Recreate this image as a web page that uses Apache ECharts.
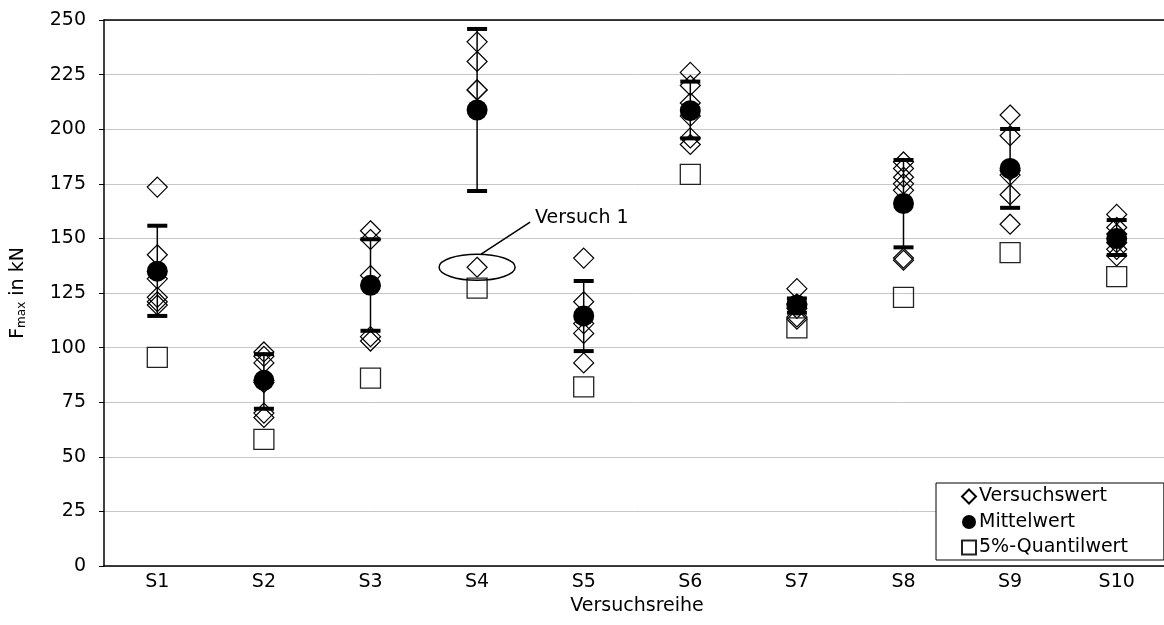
<!DOCTYPE html>
<html>
<head>
<meta charset="utf-8">
<script src="https://cdn.jsdelivr.net/npm/echarts@6/dist/echarts.min.js"></script>
<style>
  html, body { margin: 0; padding: 0; background: #fff; }
  #chart { width: 1164px; height: 625px; }
</style>
</head>
<body>
<div id="chart"></div>
<script>
// Versuchsreihen
const categories = ['S1', 'S2', 'S3', 'S4', 'S5', 'S6', 'S7', 'S8', 'S9', 'S10'];

// einzelne Versuchswerte je Reihe (kN)
const versuchswerte = [
  [173.5, 142.5, 131.5, 123, 121, 119.5],
  [98, 96, 93, 84, 70, 68],
  [153.5, 149.5, 133, 105, 103],
  [240, 231, 218, 218, 136.8],
  [141, 121, 111, 106.5, 93],
  [226, 220, 212, 206, 196, 193],
  [127, 120, 118, 114, 113],
  [185, 182, 178, 175, 172, 141, 140],
  [206.5, 197, 181, 179, 170, 156.5],
  [161, 155, 152, 148, 145, 142]
];

const mittelwert = [135, 85, 128.5, 208.8, 114.5, 208.5, 119.5, 166, 182, 150];
const errOben = [155.8, 97, 149.6, 245.9, 130.5, 221.8, 122.5, 185.9, 200.1, 158.4];
const errUnten = [114.5, 72, 107.7, 171.7, 98.4, 195.8, 116, 145.9, 164, 142.4];
const quantil = [95.5, 58, 86, 127.2, 82, 179.3, 109, 123, 143.5, 132.5];

const yTicks = { min: 0, max: 250, interval: 25 };

const font = '"DejaVu Sans", Verdana, sans-serif';
const fs = 19;

const chartDom = document.getElementById('chart');
const myChart = echarts.init(chartDom);

let diamondData = [];
versuchswerte.forEach((vals, i) => {
  vals.forEach(v => diamondData.push([i, v]));
});

function renderErr(params, api) {
  const x = api.value(0);
  const top = api.coord([x, api.value(2)]);
  const bot = api.coord([x, api.value(1)]);
  const hw = 10;
  return {
    type: 'group',
    children: [
      { type: 'line', shape: { x1: top[0], y1: top[1], x2: bot[0], y2: bot[1] },
        style: { stroke: '#000', lineWidth: 1.5 } },
      { type: 'line', shape: { x1: top[0] - hw, y1: top[1], x2: top[0] + hw, y2: top[1] },
        style: { stroke: '#000', lineWidth: 4 } },
      { type: 'line', shape: { x1: bot[0] - hw, y1: bot[1], x2: bot[0] + hw, y2: bot[1] },
        style: { stroke: '#000', lineWidth: 4 } }
    ]
  };
}

let option = {
  animation: false,
  backgroundColor: '#fff',
  textStyle: { fontFamily: font },
  grid: { left: 104, top: 20, bottom: 59, width: 1066, outerBoundsMode: 'none', containLabel: false },
  legend: {
    orient: 'vertical',
    left: 936, top: 483,
    padding: [4, 36, 3, 25],
    itemGap: 6.5,
    itemWidth: 14, itemHeight: 14,
    backgroundColor: '#fff',
    borderColor: '#000', borderWidth: 1,
    borderRadius: 0,
    textStyle: { fontFamily: font, fontSize: fs, color: '#000', padding: [0, 0, 0, -2] },
    data: ['Versuchswert', 'Mittelwert', '5%-Quantilwert']
  },
  xAxis: [{
    type: 'category',
    data: categories,
    name: 'Versuchsreihe',
    nameLocation: 'middle',
    nameGap: 29,
    nameTextStyle: { fontFamily: font, fontSize: fs, color: '#000' },
    axisLine: { lineStyle: { color: '#000', width: 1.5 } },
    axisTick: { show: false },
    axisLabel: { fontFamily: font, fontSize: fs, color: '#000', margin: 7 },
    splitLine: { show: false }
  }, {
    type: 'category',
    data: categories,
    position: 'top',
    axisLine: { lineStyle: { color: '#000', width: 1.5 } },
    axisTick: { show: false },
    axisLabel: { show: false }
  }],
  yAxis: {
    type: 'value',
    min: yTicks.min, max: yTicks.max, interval: yTicks.interval,
    name: '{f|F}{s|max}{f| in kN}',
    nameLocation: 'middle',
    nameRotate: 90,
    nameGap: 76,
    nameTextStyle: {
      rich: {
        f: { fontFamily: font, fontSize: fs, color: '#000' },
        s: { fontFamily: font, fontSize: 12, color: '#000', verticalAlign: 'bottom', padding: [8, 0, 0, 0] }
      }
    },
    axisLine: { show: true, lineStyle: { color: '#000', width: 1.5 } },
    axisTick: { show: true, length: 5, inside: false, lineStyle: { color: '#000' } },
    axisLabel: { fontFamily: font, fontSize: fs, color: '#000', margin: 18 },
    splitLine: { lineStyle: { color: '#c6c6c6', width: 1 } }
  },
  series: [
    {
      name: 'Fehler',
      type: 'custom',
      renderItem: renderErr,
      data: categories.map((c, i) => [i, errUnten[i], errOben[i]]),
      encode: { x: 0, y: [1, 2] },
      z: 2
    },
    {
      name: 'Versuchswert',
      type: 'scatter',
      symbol: 'diamond',
      symbolSize: [20, 20],
      itemStyle: { color: 'rgba(255,255,255,0)', borderColor: '#000', borderWidth: 1.2, opacity: 1 },
      data: diamondData,
      z: 3
    },
    {
      name: 'Mittelwert',
      type: 'scatter',
      symbol: 'circle',
      symbolSize: 21,
      itemStyle: { color: '#000', borderColor: '#000', borderWidth: 0, opacity: 1 },
      data: mittelwert.map((v, i) => [i, v]),
      z: 4
    },
    {
      name: '5%-Quantilwert',
      type: 'scatter',
      symbol: 'rect',
      symbolSize: 20,
      itemStyle: { color: 'rgba(255,255,255,0)', borderColor: '#222', borderWidth: 1.3, opacity: 1 },
      data: quantil.map((v, i) => [i, v]),
      z: 3
    }
  ]
};

myChart.setOption(option);

// Markierung "Versuch 1" an der vereinzelten Probe in S4
const ausreisser = [3, versuchswerte[3][4]];
const c = myChart.convertToPixel({ gridIndex: 0 }, ausreisser);
myChart.setOption({
  graphic: [
    { type: 'ellipse', shape: { cx: c[0], cy: c[1], rx: 38, ry: 13 },
      style: { fill: 'none', stroke: '#000', lineWidth: 1.5 }, z: 10 },
    { type: 'line', shape: { x1: c[0] + 4, y1: c[1] - 13, x2: c[0] + 53, y2: c[1] - 45 },
      style: { stroke: '#000', lineWidth: 1.5 }, z: 10 },
    { type: 'text', x: c[0] + 58, y: c[1] - 49,
      style: { text: 'Versuch 1', fontFamily: font, fontSize: fs, fill: '#000', textVerticalAlign: 'middle' }, z: 10 }
  ]
});
</script>
</body>
</html>
